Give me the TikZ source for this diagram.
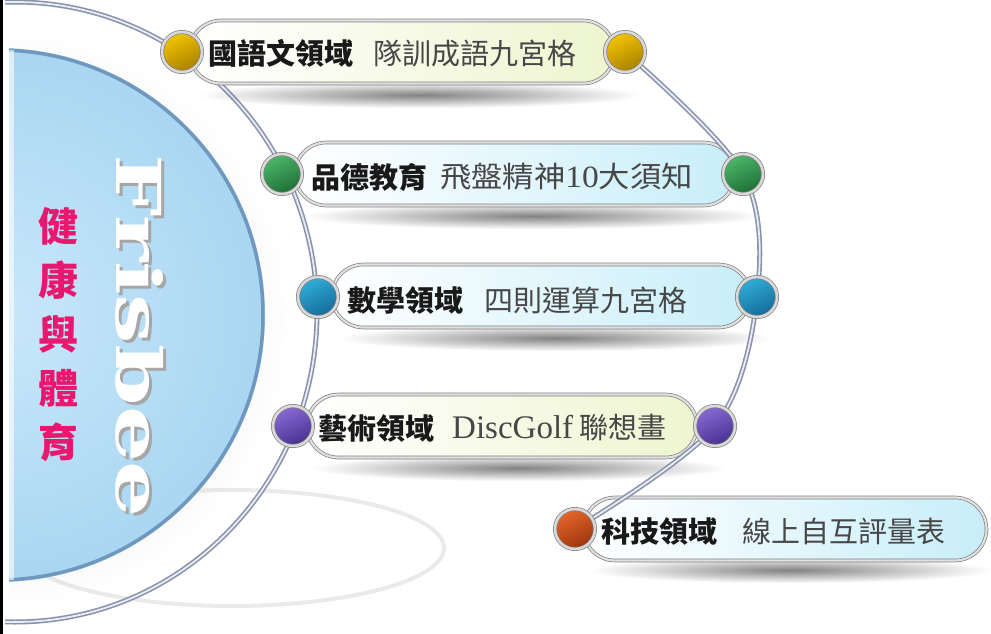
\documentclass[tikz,border=0pt]{standalone}
\usepackage{fontspec}
\usetikzlibrary{shapes.misc,shadings,fadings}
\newfontfamily\cjk{Noto Sans CJK TC}
\newfontfamily\serifen{Liberation Serif}
\newfontfamily\frisfont{DejaVu Serif}
\definecolor{discin}{HTML}{C9E8FA}
\definecolor{discout}{HTML}{A8D6F2}
\definecolor{discrim}{HTML}{7097BE}
\definecolor{ringout}{HTML}{8A93AA}
\definecolor{ringin}{HTML}{E8ECF4}
\definecolor{paleyel}{HTML}{EEF5CF}
\definecolor{palecyan}{HTML}{C8EEF9}
\definecolor{pinkc}{HTML}{E8186E}
\definecolor{yelA}{HTML}{F4C500}\definecolor{yelB}{HTML}{A88000}
\definecolor{grnA}{HTML}{4DB86A}\definecolor{grnB}{HTML}{1D6E35}
\definecolor{bluA}{HTML}{33AEDA}\definecolor{bluB}{HTML}{136A96}
\definecolor{purA}{HTML}{8A6AD6}\definecolor{purB}{HTML}{46308E}
\definecolor{oraA}{HTML}{E8662A}\definecolor{oraB}{HTML}{9A350E}
\tikzfading[name=shfade, inner color=transparent!35, outer color=transparent!100]
\tikzset{
  pill/.style={rounded rectangle, draw=black!50, line width=0.7pt, double=black!12, double distance=2.2pt, minimum height=63pt, inner sep=0pt},
  ball/.style 2 args={circle, minimum size=40pt, inner sep=0pt, draw=black!50, line width=0.7pt, double=black!15, double distance=2.6pt, shading=axis, top color=#1, bottom color=#2, shading angle=25},
  boldlab/.style={anchor=west, inner sep=0pt, text=black!90, font=\cjk\bfseries\fontsize{29}{31}\selectfont},
  reglab/.style={anchor=west, inner sep=0pt, text=black!72, font=\cjk\fontsize{29}{31}\selectfont},
  shadowbar/.style={fill=black!75, path fading=shfade, fit fading=true},
  ringA/.style={draw=ringout, line width=5pt},
  ringB/.style={draw=ringin, line width=1.8pt},
}
\begin{document}
\begin{tikzpicture}[x=1pt,y=-1pt]
\useasboundingbox (0,0) rectangle (991,634);
\fill[white] (0,0) rectangle (991,634);

% faint swoosh under the disc
\draw[black!10, line width=4pt, opacity=0.8] plot[domain=-100:200, smooth, samples=80, variable=\t] ({232+212*cos(\t)}, {548+58*sin(\t)});

% outer ring (left)
\begin{scope}
\clip (5,0) rectangle (991,634);
\draw[ringA] (15,312) ellipse[x radius=302pt, y radius=310pt];
\draw[ringB] (15,312) ellipse[x radius=302pt, y radius=310pt];
\end{scope}

% blue disc
\begin{scope}
\clip (9,0) rectangle (400,634);
\fill[black!30, path fading=shfade, fit fading=true] (2,320) circle[radius=285pt];
\shade[inner color=discin, outer color=discout] (-2,315) circle[radius=267pt];
\draw[discrim, line width=3.5pt] (-2,315) circle[radius=265pt];
\end{scope}
\fill[white, opacity=0.6] (9,50) rectangle (14,580);

% left black border
\fill[black] (0,0) rectangle (3,634);

% vertical texts
\node[rotate=-90, text=black!35] (frissh) at (143,339) {\frisfont\bfseries\fontsize{62}{62}\selectfont\scalebox{1.42}[1]{Frisbee}};
\node[rotate=-90, text=white] (fris) at (140,336) {\frisfont\bfseries\fontsize{62}{62}\selectfont\scalebox{1.42}[1]{Frisbee}};
\node[text=pinkc, align=center, inner sep=0pt, font=\cjk\bfseries\fontsize{40}{54}\selectfont] (pe) at (58,335) {健\\康\\與\\體\\育};

% pill shadows
\fill[shadowbar] (200,82) rectangle (640,108);
\fill[shadowbar] (305,203) rectangle (760,229);
\fill[shadowbar] (340,325) rectangle (772,351);
\fill[shadowbar] (312,455) rectangle (725,481);
\fill[shadowbar] (590,557) rectangle (991,583);

% pills
\node[pill, left color=white, right color=paleyel, minimum width=425pt] (p1) at (402,52) {};
\node[pill, left color=white, right color=palecyan, minimum width=440pt] (p2) at (515,174) {};
\node[pill, left color=white, right color=palecyan, minimum width=418pt] (p3) at (541,296) {};
\node[pill, left color=white, right color=paleyel, minimum width=390pt] (p4) at (502,426) {};
\node[pill, left color=white, right color=palecyan, minimum width=403pt] (p5) at (785,529) {};

% ball positions
\coordinate (c1l) at (182,52);  \coordinate (c1r) at (625,52);
\coordinate (c2l) at (282,174); \coordinate (c2r) at (743,174);
\coordinate (c3l) at (318,297); \coordinate (c3r) at (757,297);
\coordinate (c4l) at (293,426); \coordinate (c4r) at (715,426);
\coordinate (c5l) at (575,529);

% right ring linking the right-hand balls down to the last one
\draw[ringA] plot[smooth, tension=0.55] coordinates {(c1r) (c2r) (c3r) (c4r) (c5l)};
\draw[ringB] plot[smooth, tension=0.55] coordinates {(c1r) (c2r) (c3r) (c4r) (c5l)};

% balls
\node[ball={yelA}{yelB}] (b1l) at (c1l) {};
\node[ball={yelA}{yelB}] (b1r) at (c1r) {};
\node[ball={grnA}{grnB}] (b2l) at (c2l) {};
\node[ball={grnA}{grnB}] (b2r) at (c2r) {};
\node[ball={bluA}{bluB}] (b3l) at (c3l) {};
\node[ball={bluA}{bluB}] (b3r) at (c3r) {};
\node[ball={purA}{purB}] (b4l) at (c4l) {};
\node[ball={purA}{purB}] (b4r) at (c4r) {};
\node[ball={oraA}{oraB}] (b5l) at (c5l) {};

% labels
\node[boldlab] (t1a) at (208,53) {國語文領域};
\node[reglab] (t1b) at (373,53) {隊訓成語九宮格};
\node[boldlab] (t2a) at (311,177) {品德教育};
\node[reglab] (t2b) at (440,177) {\scalebox{1.08}[1]{飛盤精神{\serifen\fontsize{31}{31}\selectfont 10}大須知}};
\node[boldlab] (t3a) at (347,300) {數學領域};
\node[reglab] (t3b) at (484,300) {四則運算九宮格};
\node[boldlab] (t4a) at (318,428) {藝術領域};
\node[reglab] (t4b) at (452,428) {{\serifen\fontsize{33}{33}\selectfont DiscGolf} 聯想畫};
\node[boldlab] (t5a) at (601,531) {科技領域};
\node[reglab] (t5b) at (742,531) {線上自互評量表};
\end{tikzpicture}
\end{document}
